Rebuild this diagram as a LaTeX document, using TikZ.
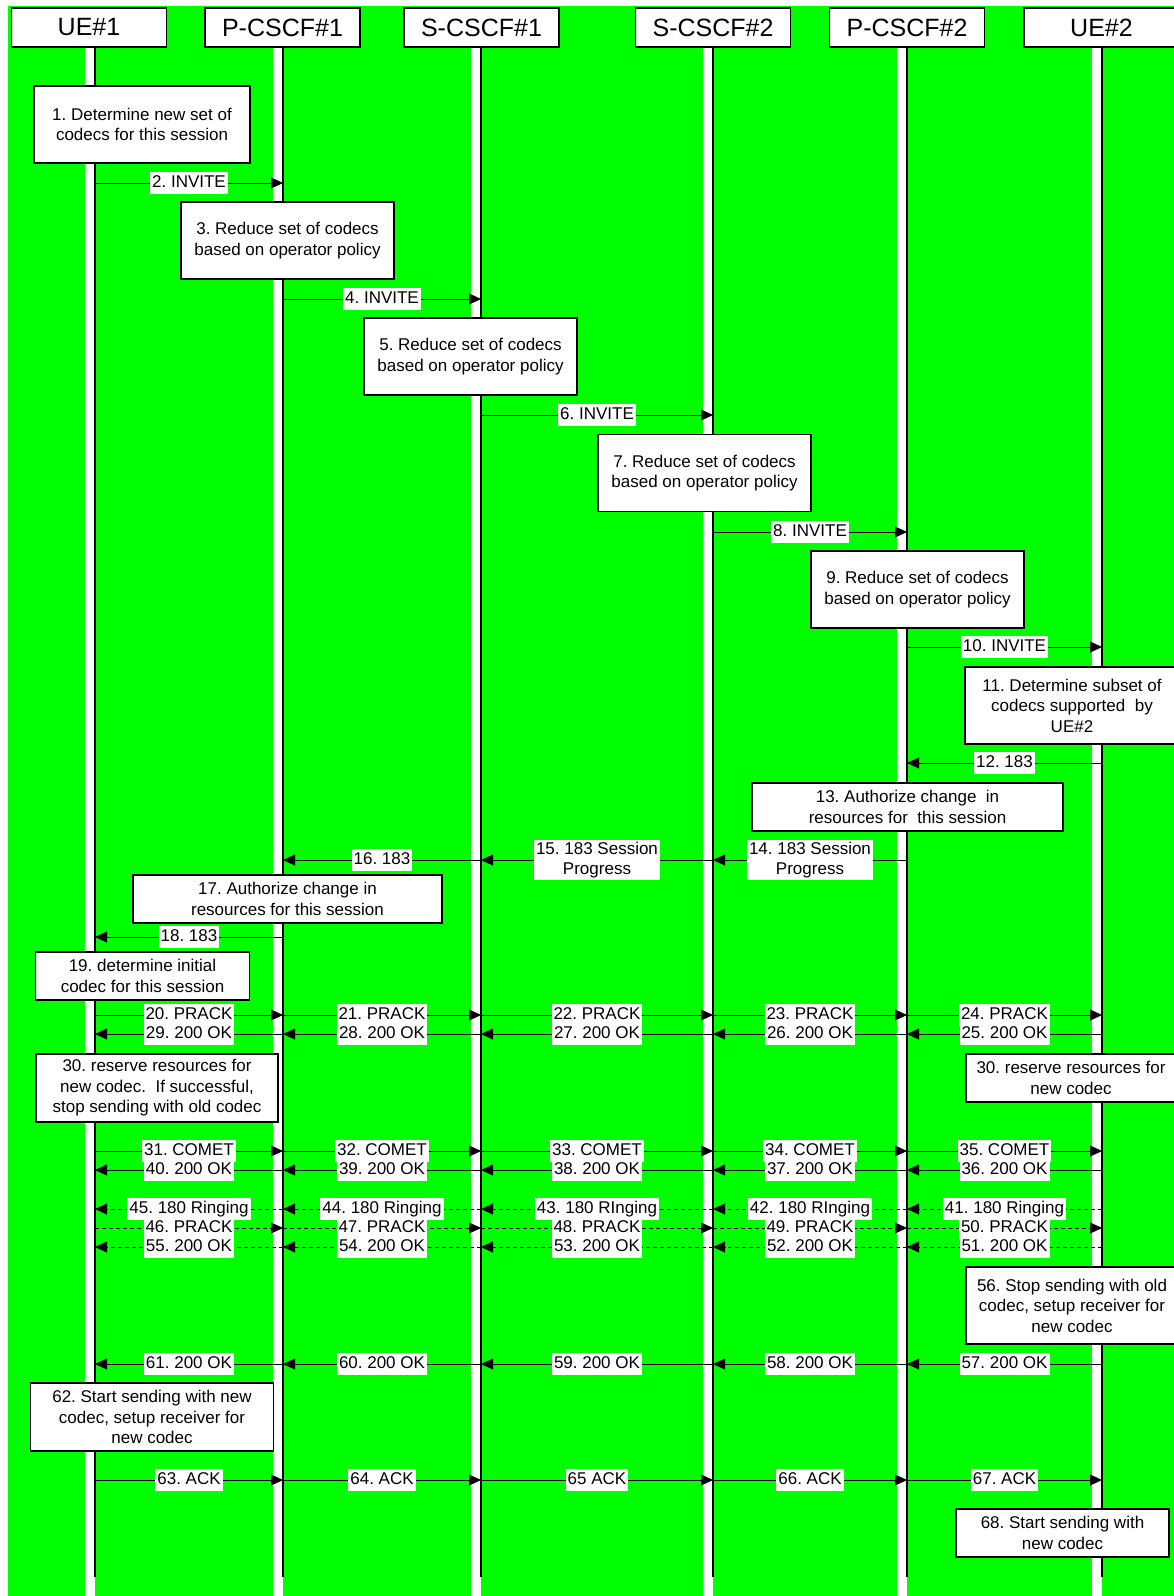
\documentclass[tikz,border=0pt]{standalone}
\usepackage{fontspec}
\setmainfont{Liberation Sans}
\usetikzlibrary{arrows.meta}
\definecolor{bggreen}{RGB}{0,255,0}
\frenchspacing

\begin{document}
\begin{tikzpicture}[x=1pt, y=-1pt,
		head/.style={draw, fill=white, line width=1.2pt, minimum width=155pt, minimum height=39pt, inner sep=0pt, font=\fontsize{25}{30}\selectfont},
		note/.style={draw, fill=white, line width=1.2pt, align=center, inner sep=0pt, font=\fontsize{17}{20.5}\selectfont},
		life/.style={line width=1.6pt},
		msg/.style={line width=1pt, -{Triangle[length=12pt, width=11pt]}},
		opt/.style={msg, dash pattern=on 4pt off 3pt},
		lbl/.style={fill=white, inner xsep=2pt, inner ysep=2.5pt, text height=13pt, text depth=4pt, font=\fontsize{17}{20.5}\selectfont},
		lbltwo/.style={fill=white, inner xsep=2pt, inner ysep=2pt, align=center, font=\fontsize{17}{20.5}\selectfont}]

		\clip (0,0) rectangle (1174,1596);
		\fill[bggreen] (8,6) rectangle (1174,1596);

		\coordinate (L1) at (95,47);
		\coordinate (L2) at (283,47);
		\coordinate (L3) at (481,47);
		\coordinate (L4) at (713,47);
		\coordinate (L5) at (907,47);
		\coordinate (L6) at (1102,47);

		% white bands under the headers
		\fill[white] ([xshift=-10pt]L1) rectangle (L1 |- 0,1596);
		\fill[white] ([xshift=-10pt]L2) rectangle (L2 |- 0,1596);
		\fill[white] ([xshift=-10pt]L3) rectangle (L3 |- 0,1596);
		\fill[white] ([xshift=-10pt]L4) rectangle (L4 |- 0,1596);
		\fill[white] ([xshift=-10pt]L5) rectangle (L5 |- 0,1596);
		\fill[white] ([xshift=-10pt]L6) rectangle (L6 |- 0,1596);

		\node[head] (ue1) at (89,27.5) {UE\#1};
		\node[head] (pc1) at (282.5,27.5) {P-CSCF\#1};
		\node[head] (sc1) at (481.5,27.5) {S-CSCF\#1};
		\node[head] (sc2) at (713,27.5) {S-CSCF\#2};
		\node[head] (pc2) at (907,27.5) {P-CSCF\#2};
		\node[head] (ue2) at (1101.5,27.5) {UE\#2};

		\draw[life] (L1) -- (L1 |- 0,1577);
		\draw[life] (L2) -- (L2 |- 0,1577);
		\draw[life] (L3) -- (L3 |- 0,1577);
		\draw[life] (L4) -- (L4 |- 0,1577);
		\draw[life] (L5) -- (L5 |- 0,1577);
		\draw[life] (L6) -- (L6 |- 0,1577);

		% notes
		\node[note, minimum width=216pt, minimum height=77pt] (n1) at (142,124.5) {1. Determine new set of\\codecs for this session};
		\node[note, minimum width=213pt, minimum height=77pt] (n3) at (287.5,240.5) {3. Reduce set of codecs\\based on operator policy};
		\node[note, minimum width=213pt, minimum height=77pt] (n5) at (470.5,356.5) {5. Reduce set of codecs\\based on operator policy};
		\node[note, minimum width=213pt, minimum height=77pt] (n7) at (704.5,473) {7. Reduce set of codecs\\based on operator policy};
		\node[note, minimum width=213pt, minimum height=77pt] (n9) at (917.5,589.5) {9. Reduce set of codecs\\based on operator policy};
		\node[note, minimum width=214pt, minimum height=77pt] (n11) at (1072,705.5) {11. Determine subset of\\codecs supported~ by\\UE\#2};
		\node[note, minimum width=311pt, minimum height=48pt] (n13) at (907.5,807) {13. Authorize change~ in\\resources for~ this session};
		\node[note, minimum width=309pt, minimum height=48pt] (n17) at (287.5,899) {17. Authorize change in\\resources for this session};
		\node[note, minimum width=214pt, minimum height=48pt] (n19) at (142.5,976) {19. determine initial\\codec for this session};
		\node[note, minimum width=242pt, minimum height=68pt] (n30a) at (157,1088) {30. reserve resources for\\new codec.~ If successful,\\stop sending with old codec};
		\node[note, minimum width=210pt, minimum height=48pt] (n30b) at (1071,1078) {30. reserve resources for\\new codec};
		\node[note, minimum width=212pt, minimum height=77pt] (n56) at (1072,1305.5) {56. Stop sending with old\\codec, setup receiver for\\new codec};
		\node[note, minimum width=243pt, minimum height=68pt] (n62) at (152,1417) {62. Start sending with new\\codec, setup receiver for\\new codec};
		\node[note, minimum width=213pt, minimum height=48pt] (n68) at (1062.5,1533) {68. Start sending with\\new codec};

		% INVITE towards UE#2
		\draw[msg] (L1 |- 0,183) -- node[lbl] {2. INVITE} (L2 |- 0,183);
		\draw[msg] (L2 |- 0,299) -- node[lbl] {4. INVITE} (L3 |- 0,299);
		\draw[msg] (L3 |- 0,415) -- node[lbl] {6. INVITE} (L4 |- 0,415);
		\draw[msg] (L4 |- 0,532) -- node[lbl] {8. INVITE} (L5 |- 0,532);
		\draw[msg] (L5 |- 0,647) -- node[lbl] {10. INVITE} (L6 |- 0,647);

		% 183 back to UE#1
		\draw[msg] (L6 |- 0,763) -- node[lbl] {12. 183} (L5 |- 0,763);
		\draw[msg] (L5 |- 0,860) -- node[lbltwo] {14. 183 Session\\Progress} (L4 |- 0,860);
		\draw[msg] (L4 |- 0,860) -- node[lbltwo] {15. 183 Session\\Progress} (L3 |- 0,860);
		\draw[msg] (L3 |- 0,860) -- node[lbl] {16. 183} (L2 |- 0,860);
		\draw[msg] (L2 |- 0,937) -- node[lbl] {18. 183} (L1 |- 0,937);

		% PRACK and 200 OK
		\draw[msg] (L1 |- 0,1015) -- node[lbl] {20. PRACK} (L2 |- 0,1015);
		\draw[msg] (L2 |- 0,1015) -- node[lbl] {21. PRACK} (L3 |- 0,1015);
		\draw[msg] (L3 |- 0,1015) -- node[lbl] {22. PRACK} (L4 |- 0,1015);
		\draw[msg] (L4 |- 0,1015) -- node[lbl] {23. PRACK} (L5 |- 0,1015);
		\draw[msg] (L5 |- 0,1015) -- node[lbl] {24. PRACK} (L6 |- 0,1015);
		\draw[msg] (L6 |- 0,1034) -- node[lbl] {25. 200 OK} (L5 |- 0,1034);
		\draw[msg] (L5 |- 0,1034) -- node[lbl] {26. 200 OK} (L4 |- 0,1034);
		\draw[msg] (L4 |- 0,1034) -- node[lbl] {27. 200 OK} (L3 |- 0,1034);
		\draw[msg] (L3 |- 0,1034) -- node[lbl] {28. 200 OK} (L2 |- 0,1034);
		\draw[msg] (L2 |- 0,1034) -- node[lbl] {29. 200 OK} (L1 |- 0,1034);

		% COMET and 200 OK
		\draw[msg] (L1 |- 0,1151) -- node[lbl] {31. COMET} (L2 |- 0,1151);
		\draw[msg] (L2 |- 0,1151) -- node[lbl] {32. COMET} (L3 |- 0,1151);
		\draw[msg] (L3 |- 0,1151) -- node[lbl] {33. COMET} (L4 |- 0,1151);
		\draw[msg] (L4 |- 0,1151) -- node[lbl] {34. COMET} (L5 |- 0,1151);
		\draw[msg] (L5 |- 0,1151) -- node[lbl] {35. COMET} (L6 |- 0,1151);
		\draw[msg] (L6 |- 0,1170) -- node[lbl] {36. 200 OK} (L5 |- 0,1170);
		\draw[msg] (L5 |- 0,1170) -- node[lbl] {37. 200 OK} (L4 |- 0,1170);
		\draw[msg] (L4 |- 0,1170) -- node[lbl] {38. 200 OK} (L3 |- 0,1170);
		\draw[msg] (L3 |- 0,1170) -- node[lbl] {39. 200 OK} (L2 |- 0,1170);
		\draw[msg] (L2 |- 0,1170) -- node[lbl] {40. 200 OK} (L1 |- 0,1170);

		% optional ringing
		\draw[opt] (L6 |- 0,1209) -- node[lbl] {41. 180 Ringing} (L5 |- 0,1209);
		\draw[opt] (L5 |- 0,1209) -- node[lbl] {42. 180 RInging} (L4 |- 0,1209);
		\draw[opt] (L4 |- 0,1209) -- node[lbl] {43. 180 RInging} (L3 |- 0,1209);
		\draw[opt] (L3 |- 0,1209) -- node[lbl] {44. 180 Ringing} (L2 |- 0,1209);
		\draw[opt] (L2 |- 0,1209) -- node[lbl] {45. 180 Ringing} (L1 |- 0,1209);
		\draw[opt] (L1 |- 0,1228) -- node[lbl] {46. PRACK} (L2 |- 0,1228);
		\draw[opt] (L2 |- 0,1228) -- node[lbl] {47. PRACK} (L3 |- 0,1228);
		\draw[opt] (L3 |- 0,1228) -- node[lbl] {48. PRACK} (L4 |- 0,1228);
		\draw[opt] (L4 |- 0,1228) -- node[lbl] {49. PRACK} (L5 |- 0,1228);
		\draw[opt] (L5 |- 0,1228) -- node[lbl] {50. PRACK} (L6 |- 0,1228);
		\draw[opt] (L6 |- 0,1247) -- node[lbl] {51. 200 OK} (L5 |- 0,1247);
		\draw[opt] (L5 |- 0,1247) -- node[lbl] {52. 200 OK} (L4 |- 0,1247);
		\draw[opt] (L4 |- 0,1247) -- node[lbl] {53. 200 OK} (L3 |- 0,1247);
		\draw[opt] (L3 |- 0,1247) -- node[lbl] {54. 200 OK} (L2 |- 0,1247);
		\draw[opt] (L2 |- 0,1247) -- node[lbl] {55. 200 OK} (L1 |- 0,1247);

		% final 200 OK
		\draw[msg] (L6 |- 0,1364) -- node[lbl] {57. 200 OK} (L5 |- 0,1364);
		\draw[msg] (L5 |- 0,1364) -- node[lbl] {58. 200 OK} (L4 |- 0,1364);
		\draw[msg] (L4 |- 0,1364) -- node[lbl] {59. 200 OK} (L3 |- 0,1364);
		\draw[msg] (L3 |- 0,1364) -- node[lbl] {60. 200 OK} (L2 |- 0,1364);
		\draw[msg] (L2 |- 0,1364) -- node[lbl] {61. 200 OK} (L1 |- 0,1364);

		% ACK
		\draw[msg] (L1 |- 0,1480) -- node[lbl] {63. ACK} (L2 |- 0,1480);
		\draw[msg] (L2 |- 0,1480) -- node[lbl] {64. ACK} (L3 |- 0,1480);
		\draw[msg] (L3 |- 0,1480) -- node[lbl] {65 ACK} (L4 |- 0,1480);
		\draw[msg] (L4 |- 0,1480) -- node[lbl] {66. ACK} (L5 |- 0,1480);
		\draw[msg] (L5 |- 0,1480) -- node[lbl] {67. ACK} (L6 |- 0,1480);
	\end{tikzpicture}
\end{document}
